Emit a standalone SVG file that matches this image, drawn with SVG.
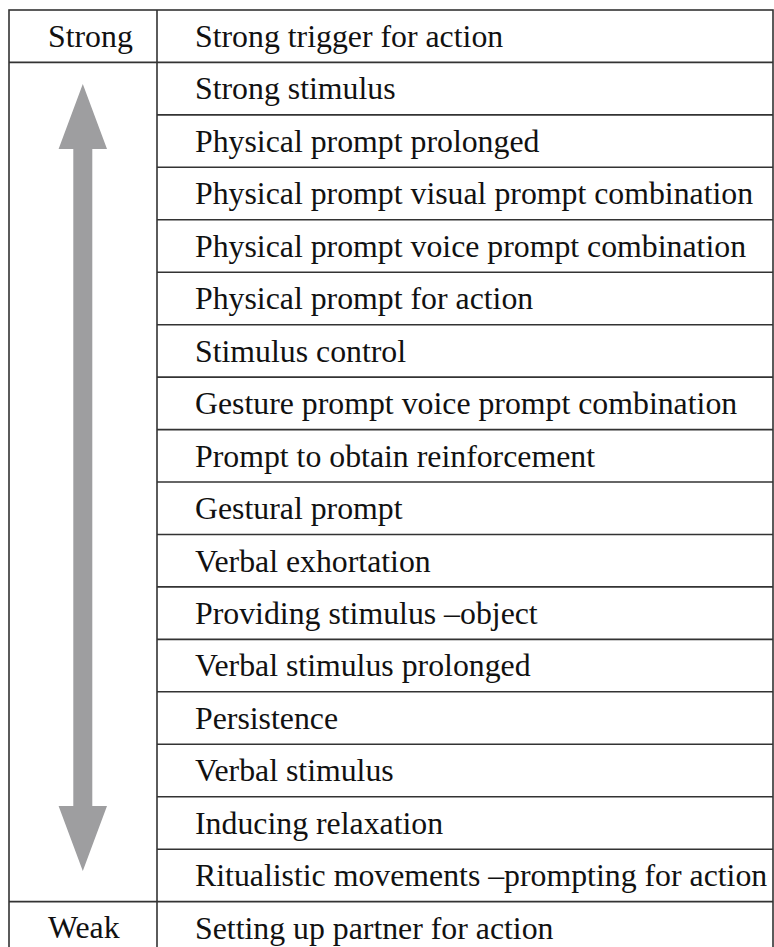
<svg xmlns="http://www.w3.org/2000/svg" width="774" height="947" viewBox="0 0 774 947">
<style>
.t{font-family:"Liberation Serif","Times New Roman",serif;font-size:31.8px;fill:#111}
.ln{stroke:#333;stroke-width:1.6;fill:none}
.ar{fill:#9e9ea0}
</style>
<rect width="774" height="947" fill="#fff"/>
<g id="grid">
<rect class="ln" x="9" y="10" width="764" height="945"/>
<line class="ln" x1="157" y1="10" x2="157" y2="955"/>
<line class="ln" x1="9" y1="62.4" x2="773" y2="62.4"/>
<line class="ln" x1="157" y1="114.9" x2="773" y2="114.9"/>
<line class="ln" x1="157" y1="167.3" x2="773" y2="167.3"/>
<line class="ln" x1="157" y1="219.8" x2="773" y2="219.8"/>
<line class="ln" x1="157" y1="272.2" x2="773" y2="272.2"/>
<line class="ln" x1="157" y1="324.7" x2="773" y2="324.7"/>
<line class="ln" x1="157" y1="377.1" x2="773" y2="377.1"/>
<line class="ln" x1="157" y1="429.6" x2="773" y2="429.6"/>
<line class="ln" x1="157" y1="482" x2="773" y2="482"/>
<line class="ln" x1="157" y1="534.5" x2="773" y2="534.5"/>
<line class="ln" x1="157" y1="586.9" x2="773" y2="586.9"/>
<line class="ln" x1="157" y1="639.4" x2="773" y2="639.4"/>
<line class="ln" x1="157" y1="691.8" x2="773" y2="691.8"/>
<line class="ln" x1="157" y1="744.3" x2="773" y2="744.3"/>
<line class="ln" x1="157" y1="796.7" x2="773" y2="796.7"/>
<line class="ln" x1="157" y1="849.2" x2="773" y2="849.2"/>
<line class="ln" x1="9" y1="901.6" x2="773" y2="901.6"/>
</g>
<g id="arrow">
<polygon class="ar" points="82.8,84 107,149 92.3,149 92.3,806 107,806 82.8,871 58.6,806 73.3,806 73.3,149 58.6,149"/>
</g>
<g id="labels-left">
<text class="t" x="48" y="47">Strong</text>
<text class="t" x="48" y="938">Weak</text>
</g>
<g id="labels-right">
<text class="t" x="195" y="47">Strong trigger for action</text>
<text class="t" x="195" y="99.4">Strong stimulus</text>
<text class="t" x="195" y="151.9">Physical prompt prolonged</text>
<text class="t" x="195" y="204.3">Physical prompt visual prompt combination</text>
<text class="t" x="195" y="256.8">Physical prompt voice prompt combination</text>
<text class="t" x="195" y="309.2">Physical prompt for action</text>
<text class="t" x="195" y="361.7">Stimulus control</text>
<text class="t" x="195" y="414.1">Gesture prompt voice prompt combination</text>
<text class="t" x="195" y="466.6">Prompt to obtain reinforcement</text>
<text class="t" x="195" y="519">Gestural prompt</text>
<text class="t" x="195" y="571.5">Verbal exhortation</text>
<text class="t" x="195" y="623.9">Providing stimulus –object</text>
<text class="t" x="195" y="676.4">Verbal stimulus prolonged</text>
<text class="t" x="195" y="728.8">Persistence</text>
<text class="t" x="195" y="781.3">Verbal stimulus</text>
<text class="t" x="195" y="833.7">Inducing relaxation</text>
<text class="t" x="195" y="886.2">Ritualistic movements –prompting for action</text>
<text class="t" x="195" y="938.6">Setting up partner for action</text>
</g>
</svg>
